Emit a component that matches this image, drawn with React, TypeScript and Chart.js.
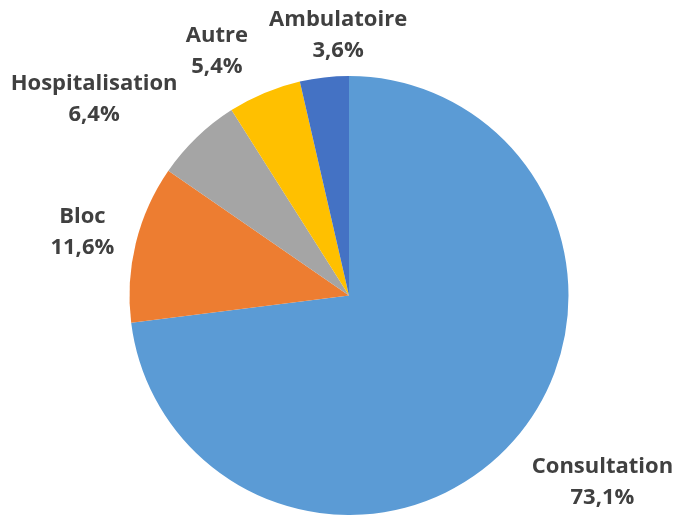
import React, { useEffect, useRef } from "react";
import { Chart, registerables } from "chart.js";

Chart.register(...registerables);

const categories = ["Consultation", "Bloc", "Hospitalisation", "Autre", "Ambulatoire"];
const values = [73.1, 11.6, 6.4, 5.4, 3.6];
const valueLabels = ["73,1%", "11,6%", "6,4%", "5,4%", "3,6%"];
const colors = ["#5B9BD5", "#ED7D31", "#A5A5A5", "#FFC000", "#4472C4"];

// label placement relative to each arc: [radius factor, angle shift in degrees]
const labelPlacement: [number, number][] = [
  [1.43, -5.3],
  [1.25, -0.1],
  [1.47, -8.3],
  [1.271, -5.6],
  [1.195, 4.1],
];

const labelPlugin = {
  id: "outsideLabels",
  afterDraw(chart: any) {
    const ctx = chart.ctx;
    const meta = chart.getDatasetMeta(0);
    ctx.save();
    ctx.font = "bold 22px 'Open Sans'";
    ctx.fillStyle = "#404040";
    ctx.textAlign = "center";
    ctx.textBaseline = "middle";
    meta.data.forEach((arc: any, i: number) => {
      const { x, y, startAngle, endAngle, outerRadius } = arc.getProps(
        ["x", "y", "startAngle", "endAngle", "outerRadius"],
        true
      );
      const [k, shift] = labelPlacement[i];
      const a = (startAngle + endAngle) / 2 + (shift * Math.PI) / 180;
      const cx = x + Math.cos(a) * outerRadius * k;
      const cy = y + Math.sin(a) * outerRadius * k;
      ctx.fillText(categories[i], cx, cy - 14);
      ctx.fillText(valueLabels[i], cx, cy + 17);
    });
    ctx.restore();
  },
};

export default function App() {
  const ref = useRef<HTMLCanvasElement>(null);
  useEffect(() => {
    document.body.style.margin = "0";
    const chart = new Chart(ref.current!, {
      type: "pie",
      data: {
        labels: categories,
        datasets: [
          {
            data: values,
            backgroundColor: colors,
            borderWidth: 0,
          },
        ],
      },
      options: {
        animation: false,
        responsive: false,
        layout: { padding: { top: 76, bottom: 0, left: 129, right: 105 } },
        plugins: { legend: { display: false }, tooltip: { enabled: false } },
      },
      plugins: [labelPlugin],
    });
    return () => chart.destroy();
  }, []);
  return (
    <div style={{ width: 674, height: 515, background: "#fff" }}>
      <canvas ref={ref} width={674} height={515} style={{ display: "block" }} />
    </div>
  );
}
